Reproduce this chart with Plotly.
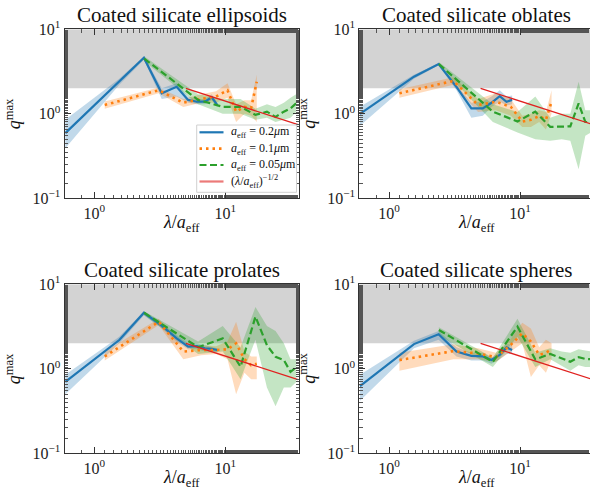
import plotly.graph_objects as go

# ---------------- data ----------------
x_02 = [0.6, 1.55, 2.39, 3.27, 4.25, 5.2, 6.05, 7.0, 7.88, 8.7]
x_01 = [1.2, 3.1, 4.78, 6.54, 8.5, 10.4, 12.1, 14.0, 15.76, 17.4]
x_005 = [2.4, 6.2, 9.56, 13.08, 17.0, 20.8, 24.2, 28.0, 31.5, 34.8]

titles = ["Coated silicate ellipsoids", "Coated silicate oblates",
          "Coated silicate prolates", "Coated silicate spheres"]

# ellipsoids
ell_02 = [0.59, 2.4, 4.6, 1.75, 2.09, 1.46, 1.39, 1.39, 1.57, 1.27]
ell_02_lo = [0.39, 2.2, 4.35, 1.5, 1.6, 1.35, 1.3, 1.3, 1.45, 1.2]
ell_02_hi = [0.85, 2.6, 4.8, 2.0, 2.3, 1.6, 1.5, 1.5, 1.7, 1.35]
ell_01 = [1.27, 1.9, 1.35, 1.5, 1.6, 1.9, 1.06, 1.21, 1.17, 2.4]
ell_01_lo = [1.15, 1.75, 1.2, 1.35, 1.35, 1.55, 0.8, 1.0, 0.95, 0.8]
ell_01_hi = [1.4, 2.05, 1.5, 1.7, 1.85, 2.3, 1.3, 1.45, 1.45, 2.9]
ell_005 = [4.5, 1.46, 1.21, 1.21, 0.97, 1.06, 0.92, 1.06, 1.16, 1.33]
ell_005_lo = [4.2, 1.3, 1.0, 1.0, 0.85, 0.9, 0.8, 0.85, 0.9, 1.05]
ell_005_hi = [4.8, 1.7, 1.5, 1.5, 1.15, 1.3, 1.2, 1.35, 1.55, 1.7]

# oblates
obl_02 = [1.0, 2.75, 3.88, 2.08, 1.16, 1.16, 1.35, 1.62, 1.39, 1.46]
obl_02_lo = [0.72, 2.6, 3.75, 1.9, 0.9, 0.95, 1.2, 1.4, 1.25, 1.3]
obl_02_hi = [1.21, 2.9, 4.0, 2.2, 1.35, 1.4, 1.6, 1.9, 1.6, 1.65]
obl_01 = [1.75, 2.45, 1.27, 1.39, 1.21, 0.81, 0.85, 0.94, 0.85, 1.39]
obl_01_lo = [1.55, 2.2, 1.05, 1.1, 0.95, 0.7, 0.7, 0.8, 0.65, 1.0]
obl_01_hi = [1.95, 2.7, 1.5, 1.75, 1.5, 0.95, 1.0, 1.1, 1.05, 1.9]
obl_005 = [3.88, 1.06, 0.81, 1.06, 0.7, 0.7, 0.71, 1.33, 0.8, 0.8]
obl_005_lo = [3.7, 0.8, 0.6, 0.5, 0.48, 0.5, 0.48, 0.22, 0.55, 0.6]
obl_005_hi = [4.1, 1.3, 1.05, 1.6, 0.9, 1.0, 1.0, 2.4, 1.1, 1.1]

# prolates
pro_02 = [0.7, 2.19, 4.6, 3.24, 2.29, 1.83, 1.85, 1.75, 1.72, 1.67]
pro_02_lo = [0.5, 2.0, 4.3, 3.0, 2.1, 1.7, 1.7, 1.6, 1.6, 1.55]
pro_02_hi = [0.85, 2.4, 4.8, 3.5, 2.5, 2.0, 2.0, 1.9, 1.8, 1.75]
pro_01 = [1.4, 3.6, 1.6, 1.67, 1.67, 1.7, 2.0, 1.3, 1.1, 1.15]
pro_01_lo = [1.25, 3.3, 1.3, 1.45, 1.5, 1.3, 0.5, 0.9, 0.75, 0.75]
pro_01_hi = [1.6, 3.9, 1.9, 1.9, 1.85, 2.1, 3.6, 1.6, 1.4, 1.4]
pro_005 = [4.6, 1.8, 2.29, 1.06, 4.14, 1.9, 1.39, 1.27, 0.92, 1.04]
pro_005_lo = [4.3, 1.5, 1.6, 0.75, 2.2, 0.6, 0.36, 0.6, 0.6, 0.7]
pro_005_hi = [4.8, 2.1, 3.2, 1.8, 5.4, 3.2, 2.8, 2.0, 1.3, 1.3]

# spheres
sph_02 = [0.625, 1.96, 2.56, 1.6, 1.42, 1.4, 1.27, 1.46, 1.79, 1.67]
sph_02_lo = [0.42, 1.75, 2.2, 1.4, 1.25, 1.25, 1.15, 1.3, 1.5, 1.5]
sph_02_hi = [0.85, 2.15, 2.8, 1.8, 1.55, 1.55, 1.35, 1.6, 2.0, 1.9]
sph_01 = [1.27, 1.62, 1.52, 1.37, 1.92, 2.63, 2.1, 1.46, 1.55, 1.7]
sph_01_lo = [0.95, 1.3, 1.3, 1.2, 1.6, 2.0, 0.8, 1.1, 0.9, 1.3]
sph_01_hi = [1.55, 1.95, 1.75, 1.55, 2.25, 3.5, 3.0, 1.8, 2.2, 2.0]
sph_005 = [2.88, 1.21, 3.15, 1.29, 1.5, 1.33, 1.21, 1.37, 1.31, 1.3]
sph_005_lo = [2.5, 1.05, 2.4, 1.05, 1.3, 1.1, 0.95, 1.1, 1.05, 1.05]
sph_005_hi = [3.1, 1.35, 3.9, 1.55, 1.75, 1.6, 1.55, 1.7, 1.65, 1.6]

red_x = [5.0, 36.0]
red_y = [2.0, 0.745]

panels = [
    (ell_02, ell_02_lo, ell_02_hi, ell_01, ell_01_lo, ell_01_hi, ell_005, ell_005_lo, ell_005_hi),
    (obl_02, obl_02_lo, obl_02_hi, obl_01, obl_01_lo, obl_01_hi, obl_005, obl_005_lo, obl_005_hi),
    (pro_02, pro_02_lo, pro_02_hi, pro_01, pro_01_lo, pro_01_hi, pro_005, pro_005_lo, pro_005_hi),
    (sph_02, sph_02_lo, sph_02_hi, sph_01, sph_01_lo, sph_01_hi, sph_005, sph_005_lo, sph_005_hi),
]

labels = ["<i>a</i><sub>eff</sub> = 0.2<i>μ</i>m",
          "<i>a</i><sub>eff</sub> = 0.1<i>μ</i>m",
          "<i>a</i><sub>eff</sub> = 0.05<i>μ</i>m"]
red_label = "(<i>λ</i>/<i>a</i><sub>eff</sub>)<sup>−1/2</sup>"

colors = ["#1f77b4", "#ff7f0e", "#2ca02c"]
fills = ["rgba(31,119,180,0.28)", "rgba(255,127,14,0.28)", "rgba(44,160,44,0.28)"]
dashes = ["solid", "2.5px,4px", "7px,3.5px"]
widths = [2.2, 2.6, 2.2]
xs = [x_02, x_01, x_005]
red_color = "#e0211f"

# ---------------- layout geometry ----------------
W, H = 590, 496
left_dom = [64.5 / W, 299 / W]
right_dom = [359.3 / W, 1.0]
top_dom = [1 - 198.3 / H, 1 - 29.3 / H]
bot_dom = [1 - 453.3 / H, 1 - 284.3 / H]
xranges = {"left": [-0.228, 1.563], "right": [-0.227, 1.534]}

fig = go.Figure()

font_family = "Liberation Serif, DejaVu Serif, serif"

for p, data in enumerate(panels):
    ax = "" if p == 0 else str(p + 1)
    xa, ya = "x" + ax, "y" + ax
    for k in range(3):
        v, lo, hi = data[3 * k], data[3 * k + 1], data[3 * k + 2]
        x = xs[k]
        fig.add_trace(go.Scatter(
            x=list(x) + list(x[::-1]), y=list(lo) + list(hi[::-1]),
            fill="toself", fillcolor=fills[k], line=dict(width=0),
            mode="lines", hoverinfo="skip", showlegend=False,
            xaxis=xa, yaxis=ya))
    for k in range(3):
        v = data[3 * k]
        fig.add_trace(go.Scatter(
            x=xs[k], y=v, mode="lines", name=labels[k],
            line=dict(color=colors[k], width=widths[k], dash=dashes[k]),
            showlegend=False, xaxis=xa, yaxis=ya))
    fig.add_trace(go.Scatter(
        x=red_x, y=red_y, mode="lines", name=red_label,
        line=dict(color=red_color, width=1.3),
        showlegend=False, xaxis=xa, yaxis=ya))

tickfont = dict(family=font_family, size=16, color="#222")
axis_common = dict(type="log", showgrid=False, zeroline=False, showline=True,
                   linecolor="#333", linewidth=1, ticks="inside", ticklen=6,
                   tickcolor="#333", tickfont=tickfont, automargin=False,
                   minor=dict(ticks="inside", ticklen=3.5, tickcolor="#555", showgrid=False))

layout = dict(width=W, height=H, margin=dict(l=0, r=0, t=0, b=0, pad=0, autoexpand=False),
              paper_bgcolor="white", plot_bgcolor="white", showlegend=False,
              font=dict(family=font_family))

doms = [(left_dom, top_dom, "left"), (right_dom, top_dom, "right"),
        (left_dom, bot_dom, "left"), (right_dom, bot_dom, "right")]

annotations = []
shapes = []
for p, (xd, yd, side) in enumerate(doms):
    ax = "" if p == 0 else str(p + 1)
    layout["xaxis" + ax] = dict(axis_common, domain=xd, range=xranges[side],
                                anchor="y" + ax, mirror="ticks",
                                tickvals=[1, 10],
                                ticktext=["10<sup>0</sup>", "10<sup>1</sup>"])
    layout["yaxis" + ax] = dict(axis_common, domain=yd, range=[-1, 1],
                                anchor="x" + ax,
                                mirror=("ticks" if side == "left" else False),
                                tickvals=[0.1, 1, 10],
                                ticktext=["10<sup>−1</sup>", "10<sup>0</sup>", "10<sup>1</sup>"])
    shapes.append(dict(type="rect", xref=("x" + ax) + " domain", yref="y" + ax,
                       x0=0, x1=1, y0=2, y1=10, fillcolor="#d3d3d3",
                       line=dict(width=0), layer="below"))
    xc = (xd[0] + xd[1]) / 2 if side == "left" else (359.3 + 593) / 2 / W
    ytop_px = 29.3 if yd is top_dom else 284.3
    ybot_px = 198.3 if yd is top_dom else 453.3
    annotations.append(dict(text=titles[p], xref="paper", yref="paper",
                            x=xc, y=1 - (ytop_px - 14.5) / H, showarrow=False,
                            xanchor="center", yanchor="middle",
                            font=dict(family=font_family, size=21, color="#111")))
    annotations.append(dict(text="<i>λ</i>/<i>a</i><sub>eff</sub>", xref="paper", yref="paper",
                            x=xc, y=1 - (ybot_px + 25.5) / H, showarrow=False,
                            xanchor="center", yanchor="middle",
                            font=dict(family=font_family, size=18, color="#111")))
    ylab_x = 13.5 if side == "left" else 308
    annotations.append(dict(text="<i>q</i><sup>max</sup>", xref="paper", yref="paper",
                            x=ylab_x / W, y=1 - (ytop_px + ybot_px) / 2 / H, showarrow=False,
                            textangle=-90, xanchor="center", yanchor="middle",
                            font=dict(family=font_family, size=18, color="#111")))

# ---- legend (drawn in the first panel, matplotlib-like) ----
leg_box = (196.7, 125.0, 296.5, 192.3)
shapes.append(dict(type="rect", xref="paper", yref="paper",
                   x0=leg_box[0] / W, x1=leg_box[2] / W,
                   y0=1 - leg_box[3] / H, y1=1 - leg_box[1] / H,
                   fillcolor="rgba(255,255,255,0.85)", line=dict(color="#d0d0d0", width=1),
                   layer="above"))
leg_rows = [132.3, 148.6, 165.0, 181.5]
leg_styles = [(colors[0], widths[0], "solid"), (colors[1], widths[1], "2.5px,4px"),
              (colors[2], widths[2], "7px,3.5px"), ("rgba(224,33,31,0.6)", 2.2, "solid")]
leg_texts = labels + [red_label]
for yy, (c, w, d), t in zip(leg_rows, leg_styles, leg_texts):
    shapes.append(dict(type="line", xref="paper", yref="paper",
                       x0=199.5 / W, x1=223.5 / W, y0=1 - yy / H, y1=1 - yy / H,
                       line=dict(color=c, width=w, dash=d), layer="above"))
    annotations.append(dict(text=t, xref="paper", yref="paper", x=229 / W, y=1 - yy / H,
                            xanchor="left", yanchor="middle", showarrow=False,
                            font=dict(family=font_family, size=12, color="#111")))

layout["annotations"] = annotations
layout["shapes"] = shapes
fig.update_layout(**layout)

fig.write_html("out.html")
